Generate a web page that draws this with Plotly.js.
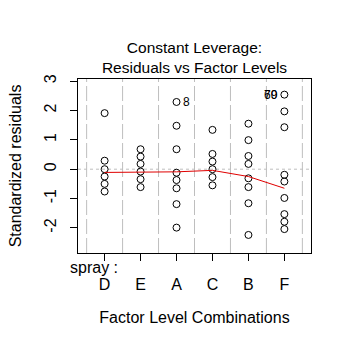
<!DOCTYPE html>
<html>
<head>
<meta charset="utf-8">
<script src="https://cdn.plot.ly/plotly-3.0.1.min.js"></script>
<style>html,body{margin:0;padding:0;background:#fff;}#chart{width:351px;height:350px;}</style>
</head>
<body>
<div id="chart"></div>
<script>
// Factor levels in plotted order
var cats = ['D', 'E', 'A', 'C', 'B', 'F'];
// Standardized residuals per level
var residD = [1.91, 0.29, 0.0, -0.25, -0.50, -0.76];
var residE = [0.68, 0.43, 0.18, -0.08, -0.34, -0.61];
var residA = [2.29, 1.48, 0.68, -0.12, -0.37, -0.65, -1.19, -1.99];
var residC = [1.34, 0.52, 0.26, 0.0, -0.27, -0.55];
var residB = [1.55, 0.99, 0.45, 0.18, -0.31, -0.61, -1.16, -2.24];
var residF = [2.54, 1.97, 1.43, -0.19, -0.42, -0.98, -1.53, -1.79, -2.04];
// Smoother values at each level
var smooth = [-0.11, -0.10, -0.09, -0.04, -0.25, -0.65];
// Identified points
var idCats = ['A', 'F', 'F'];
var idVals = [2.29, 2.54, 2.54];
var idText = ['8', '69', '70'];
var idSide = ['right', 'left', 'left'];
var yTicks = [-2, -1, 0, 1, 2, 3];

var groups = [residD, residE, residA, residC, residB, residF];
var px = [], py = [];
groups.forEach(function (g, i) {
  g.forEach(function (v) { px.push(cats[i]); py.push(v); });
});

var font = 'Liberation Sans, Arial, sans-serif';

var traces = [
  {
    x: px, y: py, type: 'scatter', mode: 'markers',
    marker: { symbol: 'circle-open', size: 7, color: '#000', line: { width: 1, color: '#000' } },
    hoverinfo: 'skip', showlegend: false
  },
  {
    x: cats, y: smooth, type: 'scatter', mode: 'lines',
    line: { color: '#E00000', width: 1 }, hoverinfo: 'skip', showlegend: false
  }
];

var shapes = [];
for (var k = 0; k <= cats.length; k++) {
  shapes.push({
    type: 'line', xref: 'x', yref: 'paper', x0: k - 0.5, x1: k - 0.5, y0: 0, y1: 1,
    line: { color: '#BEBEBE', width: 1, dash: '15px,4px' }, layer: 'below'
  });
}
shapes.push({
  type: 'line', xref: 'paper', yref: 'y', x0: 0, x1: 1, y0: 0, y1: 0,
  line: { color: '#BEBEBE', width: 1, dash: 'dot' }, layer: 'below'
});

var annotations = [];
for (var j = 0; j < idText.length; j++) {
  annotations.push({
    x: idCats[j], y: idVals[j], xref: 'x', yref: 'y', text: idText[j], showarrow: false,
    xanchor: idSide[j] === 'right' ? 'left' : 'right', yanchor: 'middle',
    xshift: idSide[j] === 'right' ? 4 : -4,
    font: { family: font, size: 12, color: '#000' }
  });
}
annotations.push({
  x: -0.042, y: -0.085, xref: 'paper', yref: 'paper', text: 'spray :', showarrow: false,
  xanchor: 'left', yanchor: 'middle', font: { family: font, size: 16, color: '#000' }
});

var layout = {
  width: 351, height: 350,
  margin: { l: 78, r: 40, t: 79, b: 97, pad: 0 },
  paper_bgcolor: '#fff', plot_bgcolor: '#fff',
  font: { family: font, size: 16, color: '#000' },
  title: {
    text: 'Constant Leverage:<br>Residuals vs Factor Levels',
    x: 0.5, xanchor: 'center', xref: 'paper',
    y: 0.85, yanchor: 'bottom', yref: 'container',
    font: { family: font, size: 15.5, color: '#000' }
  },
  xaxis: {
    type: 'category', categoryorder: 'array', categoryarray: cats,
    range: [-0.74, 5.74],
    showgrid: false, zeroline: false,
    showline: true, mirror: true, linecolor: '#000', linewidth: 1,
    ticks: 'outside', ticklen: 7, tickcolor: '#000', tickwidth: 1,
    ticklabelstandoff: 10,
    tickfont: { family: font, size: 16, color: '#000' },
    title: { text: 'Factor Level Combinations', standoff: 19, font: { family: font, size: 16, color: '#000' } }
  },
  yaxis: {
    range: [-2.855, 3.073],
    tickmode: 'array', tickvals: yTicks, ticktext: yTicks.map(String),
    tickangle: -90,
    showgrid: false, zeroline: false,
    showline: true, mirror: true, linecolor: '#000', linewidth: 1,
    ticks: 'outside', ticklen: 7, tickcolor: '#000', tickwidth: 1,
    ticklabelstandoff: 8,
    tickfont: { family: font, size: 16, color: '#000' },
    title: { text: 'Standardized residuals', standoff: 15, font: { family: font, size: 16, color: '#000' } }
  },
  shapes: shapes,
  annotations: annotations,
  showlegend: false
};

Plotly.newPlot('chart', traces, layout, { staticPlot: true, displayModeBar: false });
</script>
</body>
</html>
